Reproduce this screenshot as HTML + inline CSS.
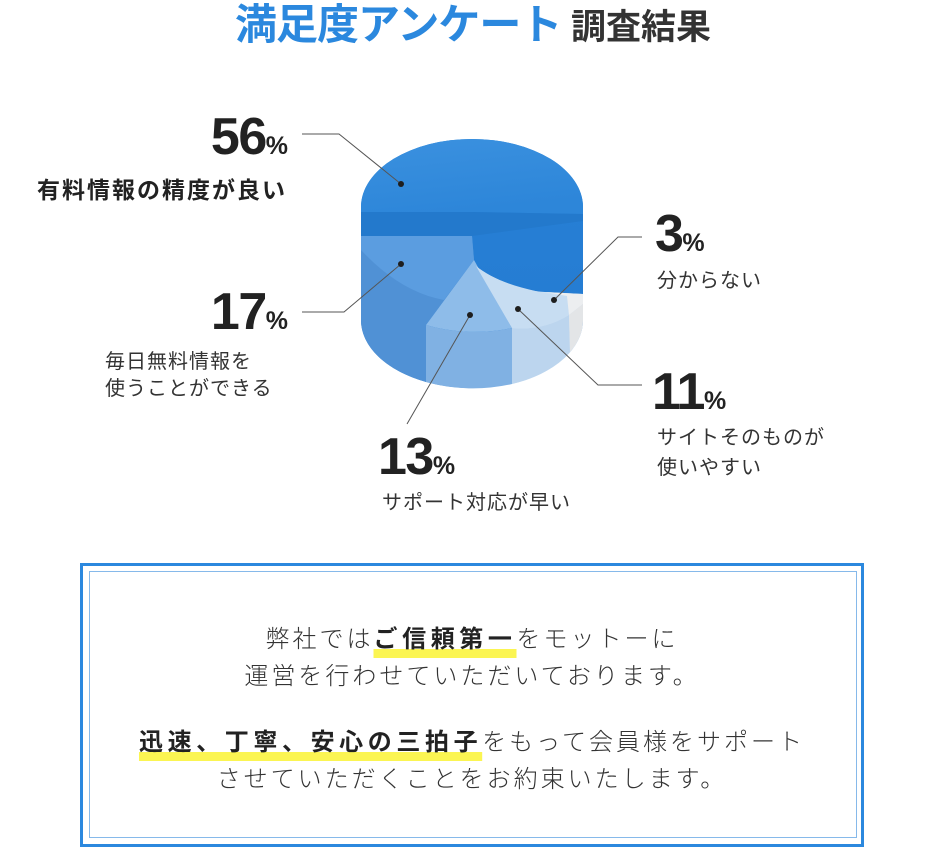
<!DOCTYPE html>
<html><head><meta charset="utf-8">
<style>
html,body{margin:0;padding:0;background:#fff;}
body{width:945px;height:857px;position:relative;overflow:hidden;font-family:"Liberation Sans","Noto Sans CJK JP",sans-serif;color:#333;}
.a{position:absolute;white-space:nowrap;}
.num{font-family:"Liberation Sans","Noto Sans CJK JP",sans-serif;font-weight:700;font-size:52px;line-height:52px;color:#222;letter-spacing:-1.5px;}
.num span{font-size:25px;letter-spacing:0;}
.lbl{font-size:20px;line-height:30px;letter-spacing:1px;color:#333;}
.box{position:absolute;left:80px;top:563px;width:778px;height:278px;border:3px solid #2b88de;}
.inner{position:absolute;left:89px;top:571px;width:766px;height:265px;border:1px solid #86b9ea;}
.para{position:absolute;left:80px;width:784px;text-align:center;font-size:24px;line-height:37px;letter-spacing:3px;color:#333;font-weight:300;}
.hl{font-weight:700;color:#222;letter-spacing:4.6px;text-decoration:underline;text-decoration-color:#fbf552;text-decoration-thickness:9px;text-underline-offset:2px;text-decoration-skip-ink:none;}
</style></head>
<body>

<div class="a" style="left:235px;top:4px;font-size:42px;line-height:42px;font-weight:700;color:#2b88de;letter-spacing:-1px;">満足度アンケート</div>
<div class="a" style="left:571px;top:10px;font-size:35px;line-height:35px;font-weight:700;color:#333;">調査結果</div>

<svg class="a" style="left:0;top:0" width="945" height="857" viewBox="0 0 945 857">
  <defs>
    <linearGradient id="gTop" x1="0" y1="0" x2="0.3" y2="1">
      <stop offset="0" stop-color="#3b91df"/>
      <stop offset="1" stop-color="#2d86d9"/>
    </linearGradient>
    <linearGradient id="gSide" x1="0" y1="0" x2="0" y2="1">
      <stop offset="0" stop-color="#2781d7"/>
      <stop offset="1" stop-color="#247ad0"/>
    </linearGradient>
  </defs>
  <!-- silhouette -->
  <path d="M361,207 A111,68 0 0 1 583,207 L583,320 A111,68 0 0 1 361,320 Z" fill="url(#gSide)"/>
  <!-- 56% top face -->
  <path d="M361,207 A111,68 0 0 1 583,207 L583,214 L472,212 L361,212 Z" fill="url(#gTop)"/>
  <!-- 56% wall band -->
  <path d="M361,212 L472,212 L583,214 L583,221 L472,236 L361,236 Z" fill="#2379cc"/>
  <!-- 17% side -->
  <path d="M361,236 L472,236 L474,260 L426,325 L426,382 A111,68 0 0 1 361,320 Z" fill="#5091d5"/>
  <!-- 17% top -->
  <path d="M361,236 L472,236 L474,260 L444,300 Q400,292 361,250 Z" fill="#5b9de0"/>
  <!-- light underlay for front-right slices -->
  <path d="M476,266 C495,282 530,292 545,292 L583,294 L583,320 A111,68 0 0 1 512,384 L512,328 Z" fill="#cfe2f4"/>
  <!-- 13% side -->
  <path d="M426,325 A111,68 0 0 0 512,328 L512,384 A111,68 0 0 1 426,382 Z" fill="#80b1e3"/>
  <!-- 13% top -->
  <path d="M474,260 L426,325 A111,68 0 0 0 512,328 Z" fill="#8ebce9"/>
  <!-- 11% side -->
  <path d="M512,328 Q543,331 569,315 L570,352 A111,68 0 0 1 512,384 Z" fill="#bcd5ee"/>
  <!-- 11% top -->
  <path d="M476,266 C495,282 530,292 567,296 L569,315 Q543,331 512,328 Z" fill="#c7ddf2"/>
  <!-- 3% top -->
  <path d="M545,292 L583,294 L583,304 L569,315 L567,296 Z" fill="#eceef0"/>
  <!-- 3% wall -->
  <path d="M569,315 L583,304 L583,320 A111,68 0 0 1 570,352 Z" fill="#e3e5e7"/>

  <!-- leader lines -->
  <g stroke="#555" stroke-width="1" fill="none">
    <polyline points="302,134 339,134 401,184"/>
    <polyline points="302,312 344,312 401,264"/>
    <polyline points="470,315 407,424"/>
    <polyline points="518,309 598,385 642,385"/>
    <polyline points="554,300 618,237 642,237"/>
  </g>
  <g fill="#1e1e1e">
    <circle cx="401" cy="184" r="3"/>
    <circle cx="401" cy="264" r="3"/>
    <circle cx="470" cy="315" r="3"/>
    <circle cx="518" cy="309" r="3"/>
    <circle cx="554" cy="300" r="3"/>
  </g>
</svg>

<!-- 56% -->
<div class="a num" style="right:657px;top:111px;">56<span>%</span></div>
<div class="a" style="left:37px;top:175px;font-size:23px;line-height:30px;font-weight:700;letter-spacing:2px;color:#222;">有料情報の精度が良い</div>

<!-- 17% -->
<div class="a num" style="right:657px;top:286px;">17<span>%</span></div>
<div class="a lbl" style="left:105px;top:349px;line-height:27px;">毎日無料情報を<br>使うことができる</div>

<!-- 3% -->
<div class="a num" style="left:655px;top:208px;">3<span>%</span></div>
<div class="a lbl" style="left:657px;top:266px;">分からない</div>

<!-- 11% -->
<div class="a num" style="left:652px;top:366px;">11<span>%</span></div>
<div class="a lbl" style="left:657px;top:423px;">サイトそのものが<br>使いやすい</div>

<!-- 13% -->
<div class="a num" style="left:378px;top:431px;">13<span>%</span></div>
<div class="a lbl" style="left:382px;top:488px;">サポート対応が早い</div>

<!-- bottom box -->
<div class="box"></div>
<div class="inner"></div>
<div class="para" style="top:621px;">弊社では<span class="hl">ご信頼第一</span>をモットーに<br>運営を行わせていただいております。</div>
<div class="para" style="top:724px;"><span class="hl">迅速、丁寧、安心の三拍子</span>をもって会員様をサポート<br>させていただくことをお約束いたします。</div>

</body></html>
